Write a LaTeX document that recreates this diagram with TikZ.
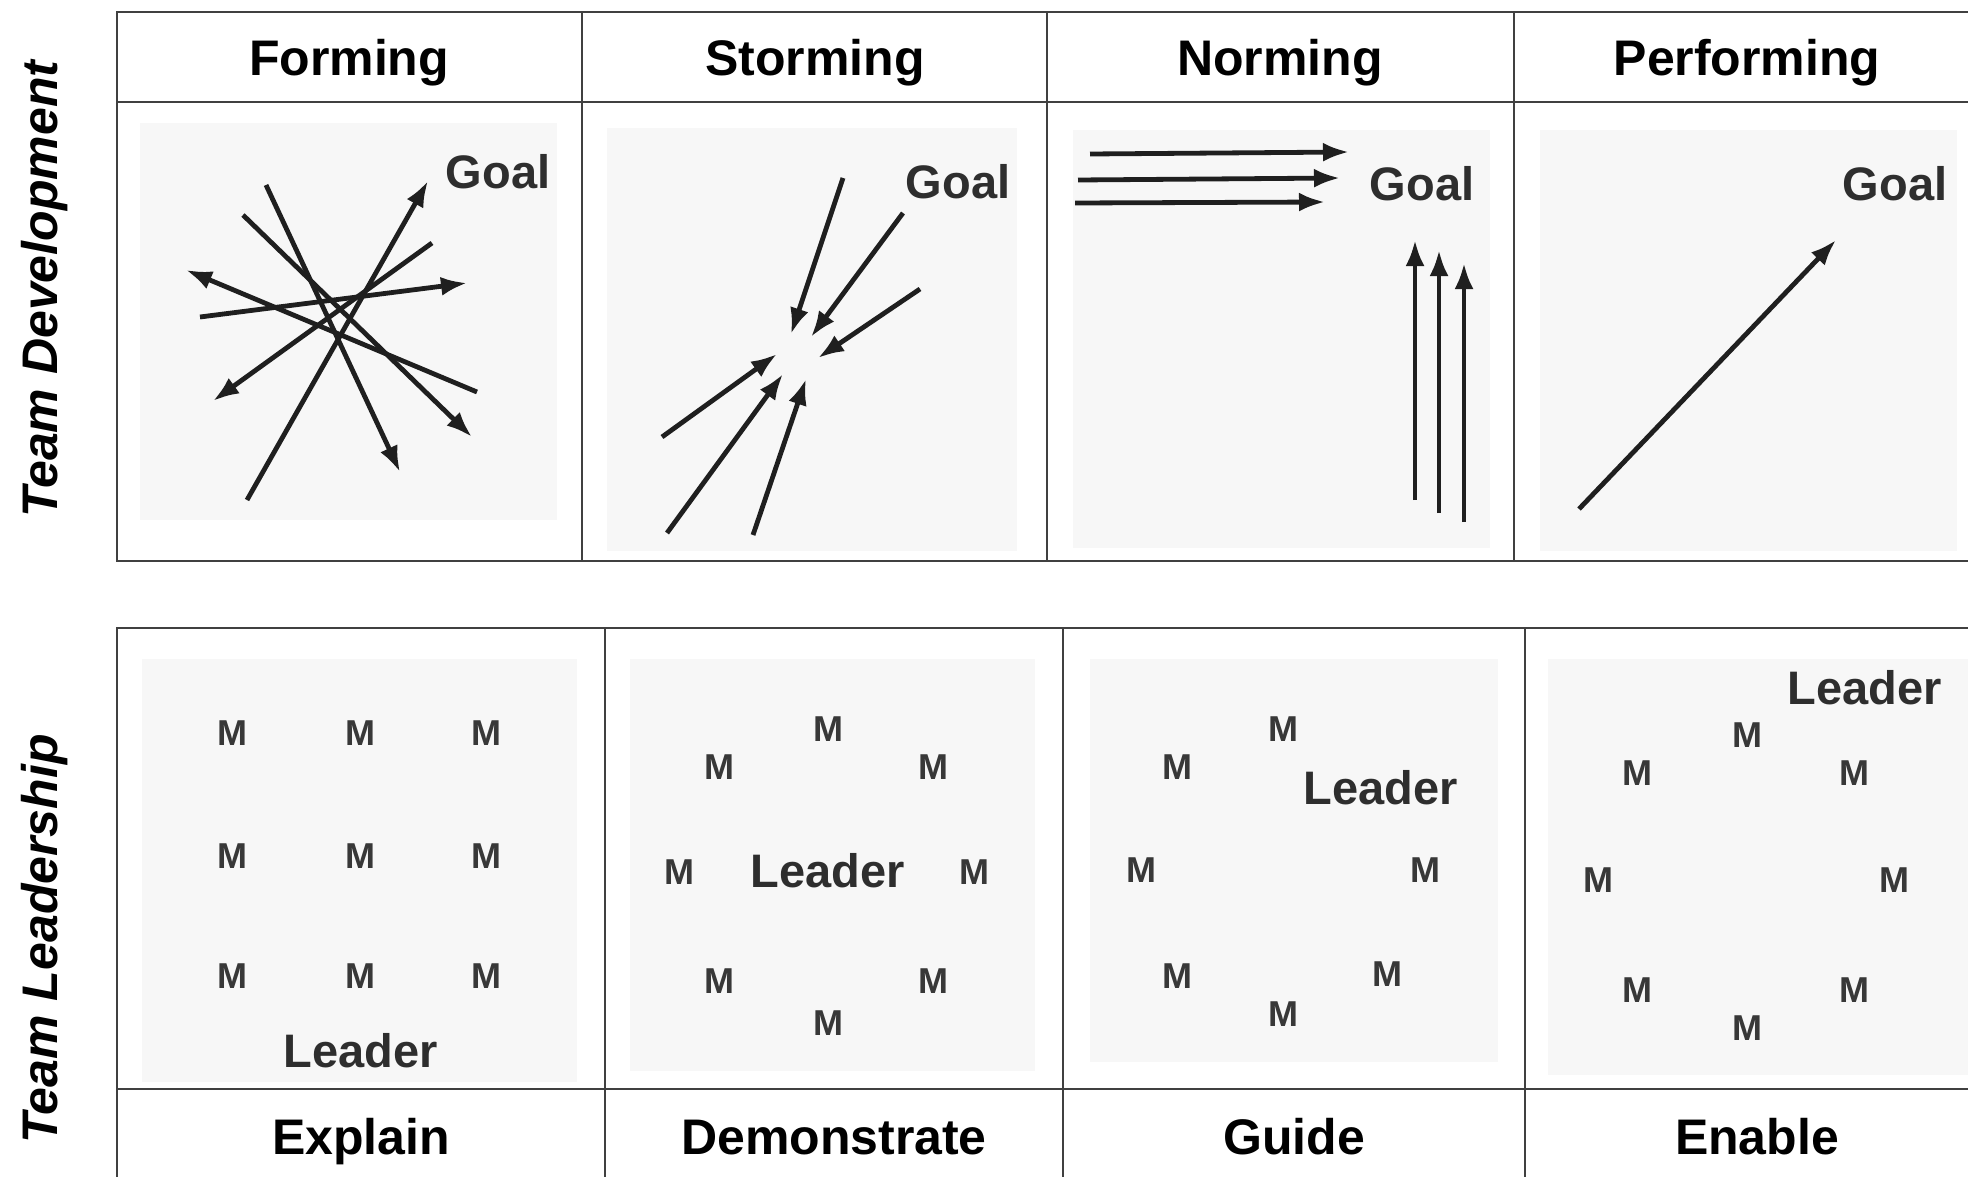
\documentclass[tikz,border=0pt]{standalone}
\usepackage{fontspec}
\setmainfont{Liberation Sans}
\usetikzlibrary{arrows.meta}
\begin{document}
\begin{tikzpicture}[x=1pt,y=-1pt,
  frame/.style={draw=black!75, line width=2.8pt},
  panel/.style={fill=black!3, draw=none},
  arr/.style={draw=black!88, line width=4.8pt, -{Latex[length=26pt,width=19pt]}},
  hdr/.style={inner sep=0pt, text height=36pt, text depth=0pt, anchor=center, font=\fontsize{50}{60}\selectfont\bfseries},
  goal/.style={inner sep=0pt, text height=34pt, text depth=0pt, anchor=center, font=\fontsize{47}{56}\selectfont\bfseries, text=black!82},
  mem/.style={inner sep=0pt, text height=26pt, text depth=0pt, anchor=center, font=\fontsize{36}{42}\selectfont\bfseries, text=black!78},
  side/.style={inner sep=0pt, text height=36pt, text depth=0pt, anchor=center, font=\fontsize{50}{60}\selectfont\bfseries\itshape, rotate=90}]
\clip (0,0) rectangle (1968,1177);
\fill[white] (0,0) rectangle (1968,1177);

% ---------- panels ----------
\fill[panel] (140,123) rectangle (557,520);
\fill[panel] (607,128) rectangle (1017,551);
\fill[panel] (1073,130) rectangle (1490,548);
\fill[panel] (1540,130) rectangle (1957,551);
\fill[panel] (142,659) rectangle (577,1082);
\fill[panel] (630,659) rectangle (1035,1071);
\fill[panel] (1090,659) rectangle (1498,1062);
\fill[panel] (1548,659) rectangle (1968,1075);

% ---------- top table ----------
\draw[frame] (117,12) rectangle (1990,561);
\draw[frame] (117,102) -- (1990,102);
\draw[frame] (582,12) -- (582,561);
\draw[frame] (1047,12) -- (1047,561);
\draw[frame] (1514,12) -- (1514,561);

% ---------- bottom table ----------
\draw[frame] (117,628) rectangle (1995,1200);
\draw[frame] (117,1089) -- (1995,1089);
\draw[frame] (605,628) -- (605,1200);
\draw[frame] (1063,628) -- (1063,1200);
\draw[frame] (1525,628) -- (1525,1200);

% ---------- side labels ----------
\node[side] (tdev) at (39,289) {Team Development};
\node[side] (tlead) at (39,939) {Team Leadership};

% ---------- headers ----------
\node[hdr] (hform) at (349,58) {Forming};
\node[hdr] (hstorm) at (815,58) {Storming};
\node[hdr] (hnorm) at (1280,58) {Norming};
\node[hdr] (hperf) at (1747,58) {Performing};

% ---------- footers ----------
\node[hdr] (fexp) at (361,1136) {Explain};
\node[hdr] (fdem) at (834,1136) {Demonstrate};
\node[hdr] (fgui) at (1294,1136) {Guide};
\node[hdr] (fena) at (1757,1136) {Enable};

% ---------- Forming ----------
\node[goal] (g1) at (498,172) {Goal};
\draw[arr] (266,185) -- (400,472);
\draw[arr] (243,215) -- (472,437);
\draw[arr] (200,317) -- (467,283);
\draw[arr] (477,392) -- (186,270);
\draw[arr] (432,243) -- (213,401);
\draw[arr] (247,500) -- (428,181);

% ---------- Storming ----------
\node[goal] (g2) at (958,182) {Goal};
\draw[arr] (843,178) -- (791,334);
\draw[arr] (903,213) -- (811,337);
\draw[arr] (920,289) -- (818,358);
\draw[arr] (662,437) -- (777,354);
\draw[arr] (667,533) -- (783,374);
\draw[arr] (753,535) -- (806,379);

% ---------- Norming ----------
\node[goal] (g3) at (1422,184) {Goal};
\draw[arr] (1090,154) -- (1349,152);
\draw[arr] (1078,180) -- (1340,178);
\draw[arr] (1075,203) -- (1325,202);
\draw[arr] (1415,500) -- (1415,240);
\draw[arr] (1439,513) -- (1439,250);
\draw[arr] (1464,522) -- (1464,263);

% ---------- Performing ----------
\node[goal] (g4) at (1895,184) {Goal};
\draw[arr] (1579,509) -- (1836,240);

% ---------- Explain ----------
\node[mem] (e1) at (232,732) {M};
\node[mem] (e2) at (360,732) {M};
\node[mem] (e3) at (486,732) {M};
\node[mem] (e4) at (232,855) {M};
\node[mem] (e5) at (360,855) {M};
\node[mem] (e6) at (486,855) {M};
\node[mem] (e7) at (232,975) {M};
\node[mem] (e8) at (360,975) {M};
\node[mem] (e9) at (486,975) {M};
\node[goal] (eL) at (361,1050) {Leader};

% ---------- Demonstrate ----------
\node[mem] (d1) at (828,728) {M};
\node[mem] (d2) at (719,766) {M};
\node[mem] (d3) at (933,766) {M};
\node[mem] (d4) at (679,871) {M};
\node[goal] (dL) at (828,870) {Leader};
\node[mem] (d5) at (974,871) {M};
\node[mem] (d6) at (719,980) {M};
\node[mem] (d7) at (933,980) {M};
\node[mem] (d8) at (828,1022) {M};

% ---------- Guide ----------
\node[mem] (u1) at (1283,728) {M};
\node[mem] (u2) at (1177,766) {M};
\node[goal] (uL) at (1381,787) {Leader};
\node[mem] (u3) at (1141,869) {M};
\node[mem] (u4) at (1425,869) {M};
\node[mem] (u5) at (1177,975) {M};
\node[mem] (u6) at (1387,973) {M};
\node[mem] (u7) at (1283,1013) {M};

% ---------- Enable ----------
\node[goal] (nL) at (1865,687) {Leader};
\node[mem] (n1) at (1747,734) {M};
\node[mem] (n2) at (1637,772) {M};
\node[mem] (n3) at (1854,772) {M};
\node[mem] (n4) at (1598,879) {M};
\node[mem] (n5) at (1894,879) {M};
\node[mem] (n6) at (1637,989) {M};
\node[mem] (n7) at (1854,989) {M};
\node[mem] (n8) at (1747,1027) {M};
\end{tikzpicture}
\end{document}
